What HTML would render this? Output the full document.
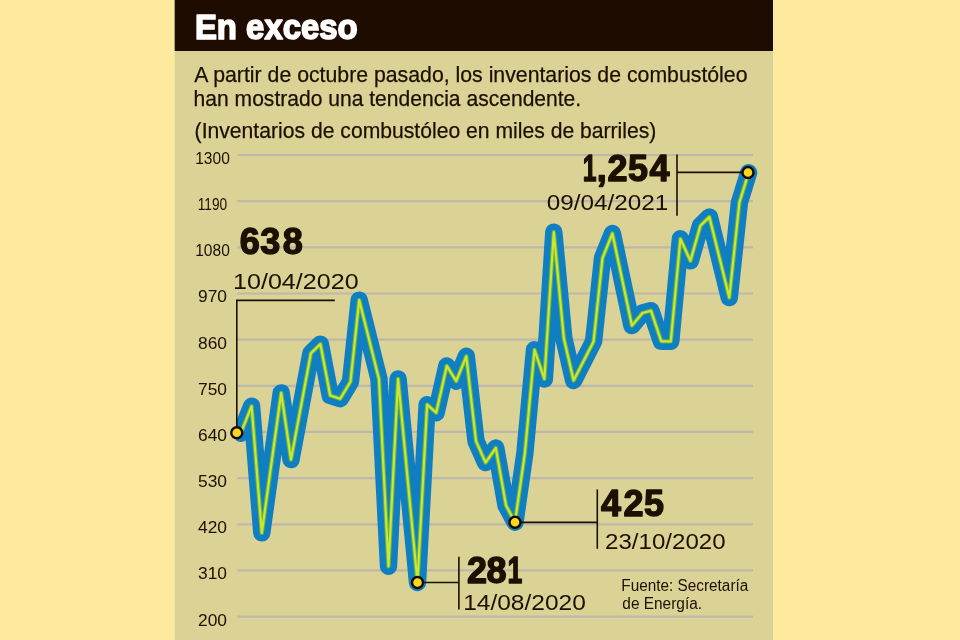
<!DOCTYPE html>
<html lang="es">
<head>
<meta charset="utf-8">
<title>En exceso</title>
<style>
html,body{margin:0;padding:0;background:#fdea9e;}
body{width:960px;height:640px;overflow:hidden;position:relative;font-family:"Liberation Sans",sans-serif;}
svg{display:block;position:absolute;left:-20px;top:-20px;filter:blur(0.45px);}
text{font-family:"Liberation Sans",sans-serif;fill:#1c1000;}
.b{font-weight:bold;}
</style>
</head>
<body>
<svg width="1000" height="680" viewBox="-20 -20 1000 680">
<rect x="-20" y="-20" width="1000" height="680" fill="#fdea9e"/>
<rect x="174.7" y="-20" width="598.3" height="680" fill="#dad395"/>
<rect x="174.7" y="-20" width="598.3" height="71" fill="#1f0c00"/>
<text class="b" x="194.9" y="39.4" font-size="35.8" textLength="162.8" lengthAdjust="spacingAndGlyphs" style="fill:#ffffff;stroke:#ffffff;stroke-width:1.7;stroke-linejoin:round">En exceso</text>
<g font-size="21.7" stroke="#1c1000" stroke-width="0.25">
<text x="194.3" y="81.5" textLength="553.2" lengthAdjust="spacingAndGlyphs">A partir de octubre pasado, los inventarios de combustóleo</text>
<text x="193.6" y="105.7" textLength="387.6" lengthAdjust="spacingAndGlyphs">han mostrado una tendencia ascendente.</text>
<text x="194.6" y="137.9" textLength="461.8" lengthAdjust="spacingAndGlyphs">(Inventarios de combustóleo en miles de barriles)</text>
</g>
<g stroke="#bdb7ac" stroke-width="2.2" fill="none">
<line x1="237.5" y1="155.00" x2="753" y2="155.00"/>
<line x1="237.5" y1="201.16" x2="753" y2="201.16"/>
<line x1="237.5" y1="247.32" x2="753" y2="247.32"/>
<line x1="237.5" y1="293.48" x2="753" y2="293.48"/>
<line x1="237.5" y1="339.64" x2="753" y2="339.64"/>
<line x1="237.5" y1="385.80" x2="753" y2="385.80"/>
<line x1="237.5" y1="431.96" x2="753" y2="431.96"/>
<line x1="237.5" y1="478.12" x2="753" y2="478.12"/>
<line x1="237.5" y1="524.28" x2="753" y2="524.28"/>
<line x1="237.5" y1="570.44" x2="753" y2="570.44"/>
<line x1="237.5" y1="616.60" x2="753" y2="616.60"/>
</g>
<g font-size="15.6">
<text x="212.5" y="164.00" text-anchor="middle" textLength="34.6" lengthAdjust="spacingAndGlyphs">1300</text>
<text x="212.5" y="210.16" text-anchor="middle" textLength="29.5" lengthAdjust="spacingAndGlyphs">1190</text>
<text x="212.5" y="256.32" text-anchor="middle" textLength="34.6" lengthAdjust="spacingAndGlyphs">1080</text>
<text x="212.5" y="302.48" text-anchor="middle" textLength="29" lengthAdjust="spacingAndGlyphs">970</text>
<text x="212.5" y="348.64" text-anchor="middle" textLength="29" lengthAdjust="spacingAndGlyphs">860</text>
<text x="212.5" y="394.80" text-anchor="middle" textLength="29" lengthAdjust="spacingAndGlyphs">750</text>
<text x="212.5" y="440.96" text-anchor="middle" textLength="29" lengthAdjust="spacingAndGlyphs">640</text>
<text x="212.5" y="487.12" text-anchor="middle" textLength="29" lengthAdjust="spacingAndGlyphs">530</text>
<text x="212.5" y="533.28" text-anchor="middle" textLength="29" lengthAdjust="spacingAndGlyphs">420</text>
<text x="212.5" y="579.44" text-anchor="middle" textLength="29" lengthAdjust="spacingAndGlyphs">310</text>
<text x="212.5" y="625.60" text-anchor="middle" textLength="29" lengthAdjust="spacingAndGlyphs">200</text>
</g>
<clipPath id="cp"><rect x="236.2" y="140" width="540" height="480"/></clipPath>
<g fill="none" stroke-linejoin="round" stroke-linecap="round" clip-path="url(#cp)">
<polyline points="240.8,433.2 251.6,406.2 261.8,532.9 281.2,392.9 291,459.6 310.9,353.3 320.4,344.1 330.2,395.5 340.2,398.7 350.5,381.7 359.2,300.1 379,379.2 388.5,566.3 398.1,378.9 417.5,582.5 427.1,404.6 436.2,412.7 446.8,365.9 456.2,381.2 466.3,356.3 476,441.1 485.6,462.6 495.8,448 506,505.4 515,522.2 524.9,453 534.5,349.8 544.4,378.9 553.8,232.1 563.8,338 573.6,380.5 593.6,341.4 602.5,258.1 612.4,233.5 631.9,325.6 642.5,313 651,310.7 661.3,341.3 670.8,341.3 680.4,238.8 690.4,260.8 700.4,225.8 709.4,216.9 729.3,297.6 739.4,202.5 748.6,172.8" stroke="#0f7fc2" stroke-width="17.4"/>
<polyline points="240.8,433.2 251.6,406.2 261.8,532.9 281.2,392.9 291,459.6 310.9,353.3 320.4,344.1 330.2,395.5 340.2,398.7 350.5,381.7 359.2,300.1 379,379.2 388.5,566.3 398.1,378.9 417.5,582.5 427.1,404.6 436.2,412.7 446.8,365.9 456.2,381.2 466.3,356.3 476,441.1 485.6,462.6 495.8,448 506,505.4 515,522.2 524.9,453 534.5,349.8 544.4,378.9 553.8,232.1 563.8,338 573.6,380.5 593.6,341.4 602.5,258.1 612.4,233.5 631.9,325.6 642.5,313 651,310.7 661.3,341.3 670.8,341.3 680.4,238.8 690.4,260.8 700.4,225.8 709.4,216.9 729.3,297.6 739.4,202.5 748.6,172.8" stroke="#62b24c" stroke-width="4.3"/>
<polyline points="240.8,433.2 251.6,406.2 261.8,532.9 281.2,392.9 291,459.6 310.9,353.3 320.4,344.1 330.2,395.5 340.2,398.7 350.5,381.7 359.2,300.1 379,379.2 388.5,566.3 398.1,378.9 417.5,582.5 427.1,404.6 436.2,412.7 446.8,365.9 456.2,381.2 466.3,356.3 476,441.1 485.6,462.6 495.8,448 506,505.4 515,522.2 524.9,453 534.5,349.8 544.4,378.9 553.8,232.1 563.8,338 573.6,380.5 593.6,341.4 602.5,258.1 612.4,233.5 631.9,325.6 642.5,313 651,310.7 661.3,341.3 670.8,341.3 680.4,238.8 690.4,260.8 700.4,225.8 709.4,216.9 729.3,297.6 739.4,202.5 748.6,172.8" stroke="#cde630" stroke-width="2.2"/>
</g>
<g stroke="#1c1000" stroke-width="1.6" fill="none">
<polyline points="236.8,432 236.8,300.4 334.8,300.4"/>
<polyline points="417.5,582.5 458.8,582.5"/>
<line x1="458.9" y1="556.7" x2="458.9" y2="609.5"/>
<line x1="515" y1="522.4" x2="597.4" y2="522.4"/>
<line x1="597.3" y1="489.4" x2="597.3" y2="548.8"/>
<line x1="677" y1="172.4" x2="748" y2="172.4"/>
<line x1="677" y1="154.4" x2="677" y2="215.8"/>
</g>
<g fill="#fcd71f" stroke="#170c00" stroke-width="2.4">
<circle cx="236.8" cy="432.8" r="5.5"/>
<circle cx="417.5" cy="582.5" r="5.5"/>
<circle cx="515" cy="522.2" r="5.5"/>
<circle cx="748" cy="172.5" r="5.5"/>
</g>
<g class="b" font-size="36" stroke="#1c1000" stroke-width="1.4" stroke-linejoin="round">
<text x="239.8 260.3 282.8" y="254">638</text>
<text y="582.5"><tspan x="467.1 486.5">28</tspan><tspan x="507.4" textLength="14.8" lengthAdjust="spacingAndGlyphs">1</tspan></text>
<text x="601.1 623.6 644" y="516.4">425</text>
<text y="180.7"><tspan x="582.7" textLength="13.8" lengthAdjust="spacingAndGlyphs">1</tspan><tspan x="596.8 607.4 628.1 649.4">,254</tspan></text>
</g>
<g font-size="22.7">
<text x="233" y="289.2" textLength="125.6" lengthAdjust="spacingAndGlyphs">10/04/2020</text>
<text x="463.2" y="609.5" textLength="122.6" lengthAdjust="spacingAndGlyphs">14/08/2020</text>
<text x="605" y="548.7" textLength="120.6" lengthAdjust="spacingAndGlyphs">23/10/2020</text>
<text x="546.8" y="209.9" textLength="121.5" lengthAdjust="spacingAndGlyphs">09/04/2021</text>
</g>
<g font-size="15.6">
<text x="621.3" y="590.8" textLength="127" lengthAdjust="spacingAndGlyphs">Fuente: Secretaría</text>
<text x="622.3" y="609.3" textLength="79.8" lengthAdjust="spacingAndGlyphs">de Energía.</text>
</g>
</svg>
</body>
</html>
